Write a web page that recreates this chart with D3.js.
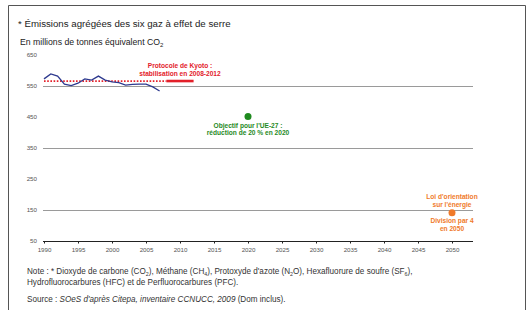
<!DOCTYPE html>
<html><head><meta charset="utf-8">
<script src="https://cdn.jsdelivr.net/npm/d3@7/dist/d3.min.js"></script>
<style>body{margin:0;background:#fff}svg{display:block;font-family:"Liberation Sans",Arial,sans-serif}</style>
</head><body>
<script>
const years = [1990,1991,1992,1993,1994,1995,1996,1997,1998,1999,2000,2001,2002,2003,2004,2005,2006,2007];
const emissions = [573,589,582,556,551,559,573,569,582,569,563,561,553,555,556,556,547,534];
const kyotoLevel = 566;
const kyotoDotted = [1990, 2008];
const kyotoSolid = [2008, 2012];
const target2020 = {year:2020, value:452};
const target2050 = {year:2050, value:141};
const xTicks = [1990,1995,2000,2005,2010,2015,2020,2025,2030,2035,2040,2045,2050];
const yTicks = [50,150,250,350,450,550,650];
const yGrid = [150,350,550];

const W=531,H=310;
const svg=d3.select("body").append("svg").attr("width",W).attr("height",H);
// frame
svg.append("path").attr("d","M8.5,310 V5.5 H525.5 V310").attr("fill","none").attr("stroke","#555").attr("stroke-width",1);

svg.append("text").attr("x",18).attr("y",27).attr("font-size",9.7).attr("fill","#222").text("* Émissions agrégées des six gaz à effet de serre");
const st=svg.append("text").attr("x",20).attr("y",45).attr("font-size",8.7).attr("fill","#222").text("En millions de tonnes équivalent CO");
st.append("tspan").attr("font-size",6).attr("dy",2).text("2");

const x=d3.scaleLinear().domain([1990,2050]).range([44,452]);
const y=d3.scaleLinear().domain([50,650]).range([241,55]);

// grid
svg.append("g").selectAll("line").data(yGrid).join("line")
 .attr("x1",43).attr("x2",473).attr("y1",d=>y(d)+0.5).attr("y2",d=>y(d)+0.5)
 .attr("stroke","#9a9a9a").attr("stroke-width",1);

// y labels
svg.append("g").selectAll("text").data(yTicks).join("text")
 .attr("x",37).attr("y",d=>y(d)+2).attr("text-anchor","end").attr("font-size",6.2).attr("fill","#555").text(d=>d);

// x axis
const xa=svg.append("g").attr("transform","translate(0,241.5)")
 .call(d3.axisBottom(x).tickValues(xTicks).tickFormat(d3.format("d")).tickSize(2).tickSizeOuter(0));
xa.select(".domain").attr("d","M43,0H473").attr("stroke","#222");
xa.selectAll(".tick line").attr("stroke","#222");
xa.selectAll("text").attr("font-size",6.2).attr("fill","#555").attr("dy","0.9em").attr("font-family","Liberation Sans,Arial,sans-serif");

// kyoto
svg.append("line").attr("x1",x(kyotoDotted[0])).attr("x2",x(kyotoDotted[1])).attr("y1",y(kyotoLevel)).attr("y2",y(kyotoLevel))
 .attr("stroke","#e3202a").attr("stroke-width",1.8).attr("stroke-dasharray","1.6,1.6");
svg.append("line").attr("x1",x(kyotoSolid[0])).attr("x2",x(kyotoSolid[1])).attr("y1",y(kyotoLevel)).attr("y2",y(kyotoLevel))
 .attr("stroke","#e3202a").attr("stroke-width",2.6);

// emissions line
svg.append("path").datum(years.map((d,i)=>[d,emissions[i]]))
 .attr("d",d3.line().x(d=>x(d[0])).y(d=>y(d[1])))
 .attr("fill","none").attr("stroke","#2e3a8f").attr("stroke-width",1.3);

// labels
function lbl(lines,cx,y0,color,dy){
  lines.forEach((t,i)=>svg.append("text").attr("x",cx).attr("y",y0+i*dy).attr("text-anchor","middle")
   .attr("font-size",6.6).attr("font-weight","bold").attr("fill",color).text(t));
}
lbl(["Protocole de Kyoto :","stabilisation en 2008-2012"],180,68,"#e3202a",7.6);

svg.append("circle").attr("cx",x(target2020.year)).attr("cy",y(target2020.value)).attr("r",3.5).attr("fill","#1f8a1f");
lbl(["Objectif pour l'UE-27 :","réduction de 20 % en 2020"],248,128,"#1f8a1f",7.4);

svg.append("circle").attr("cx",x(target2050.year)).attr("cy",y(target2050.value)).attr("r",3.5).attr("fill","#f07a2a");
lbl(["Loi d'orientation","sur l'énergie"],452,199,"#f07a2a",7.6);
lbl(["Division par 4","en 2050"],452,223,"#f07a2a",7.6);

// notes
const fs=8.15;
const n1=svg.append("text").attr("x",27).attr("y",274).attr("font-size",fs).attr("fill","#333");
n1.append("tspan").text("Note : * Dioxyde de carbone (CO");
n1.append("tspan").attr("font-size",5.3).attr("dy",1.5).text("2");
n1.append("tspan").attr("dy",-1.5).text("), Méthane (CH");
n1.append("tspan").attr("font-size",5.3).attr("dy",1.5).text("4");
n1.append("tspan").attr("dy",-1.5).text("), Protoxyde d'azote (N");
n1.append("tspan").attr("font-size",5.3).attr("dy",1.5).text("2");
n1.append("tspan").attr("dy",-1.5).text("O), Hexafluorure de soufre (SF");
n1.append("tspan").attr("font-size",5.3).attr("dy",1.5).text("6");
n1.append("tspan").attr("dy",-1.5).text("),");
svg.append("text").attr("x",27).attr("y",285).attr("font-size",fs).attr("fill","#333").text("Hydrofluorocarbures (HFC) et de Perfluorocarbures (PFC).");
const s=svg.append("text").attr("x",27).attr("y",302).attr("font-size",fs).attr("fill","#333");
s.append("tspan").text("Source  : ");
s.append("tspan").attr("font-style","italic").text("SOeS d'après Citepa, inventaire CCNUCC, 2009");
s.append("tspan").text(" (Dom inclus).");
</script>
</body></html>
